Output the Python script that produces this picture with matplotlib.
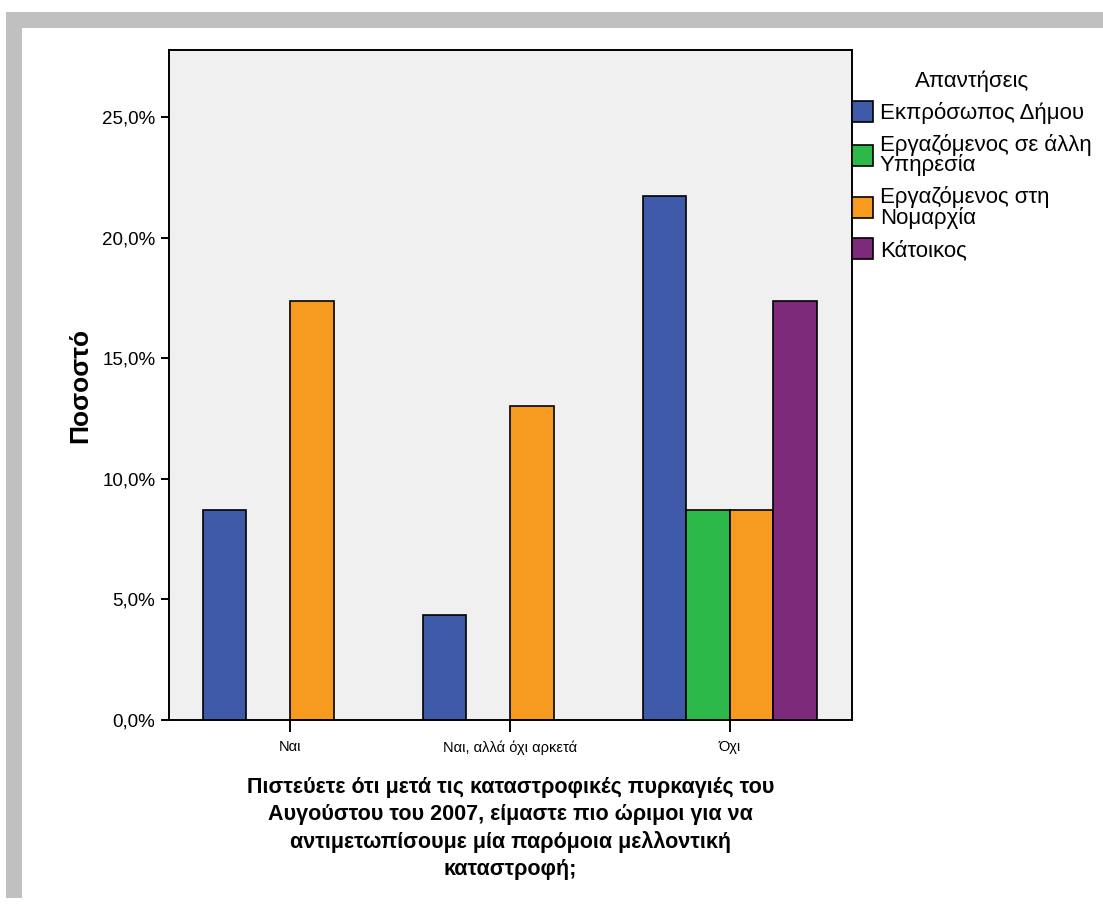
import matplotlib.pyplot as plt
import numpy as np
from matplotlib.patches import Rectangle
from matplotlib.ticker import FuncFormatter

plt.rcParams['font.family'] = ['Liberation Sans', 'DejaVu Sans']

categories = ['Ναι', 'Ναι, αλλά όχι αρκετά', 'Όχι']
series = ['Εκπρόσωπος Δήμου', 'Εργαζόμενος σε άλλη\nΥπηρεσία',
          'Εργαζόμενος στη\nΝομαρχία', 'Κάτοικος']
values = {
    'Εκπρόσωπος Δήμου': [8.70, 4.35, 21.74],
    'Εργαζόμενος σε άλλη\nΥπηρεσία': [0, 0, 8.70],
    'Εργαζόμενος στη\nΝομαρχία': [17.39, 13.04, 8.70],
    'Κάτοικος': [0, 0, 17.39],
}
colors = ['#3F5AA9', '#2DB84A', '#F79A20', '#7D2A7B']

fig = plt.figure(figsize=(11.03, 9.06), dpi=100)
# grey frame of the output viewer
fig.add_artist(Rectangle((6/1103, 8/906), 1, (898-12)/906, transform=fig.transFigure,
                         facecolor='#C0C0C0', edgecolor='none', zorder=-10))
fig.add_artist(Rectangle((22/1103, 8/906), 1, (898-28)/906, transform=fig.transFigure,
                         facecolor='white', edgecolor='none', zorder=-9))

ax = fig.add_axes([169/1103, 1-720/906, (852-169)/1103, (720-50)/906])
ax.set_facecolor('#F0F0F0')

x = np.arange(len(categories))
w = 0.198
for i, (s, c) in enumerate(zip(series, colors)):
    v = np.array(values[s], dtype=float)
    pos = x + (i - 1.5) * w
    m = v > 0  # empty cells get no bar
    ax.bar(pos[m], v[m], width=w, color=c, edgecolor='black', linewidth=1.2, label=s)

ax.set_xlim(-0.55, 2.555)
ax.set_ylim(0, 27.78)
ax.set_yticks(np.arange(0, 26, 5))
ax.yaxis.set_major_formatter(FuncFormatter(lambda v, p: f'{v:.1f}%'.replace('.', ',')))
ax.set_xticks(x)
ax.set_xticklabels(categories, fontsize=10.5)
ax.tick_params(axis='y', length=5.8, width=1.4, pad=4, labelsize=13.5)
ax.tick_params(axis='x', length=8.6, width=1.4, pad=6)
for sp in ax.spines.values():
    sp.set_linewidth(1.4)

ax.set_ylabel('Ποσοστό', fontsize=19, fontweight='bold')
ax.yaxis.set_label_coords(-0.113, 0.5)
ax.set_xlabel('Πιστεύετε ότι μετά τις καταστροφικές πυρκαγιές του\n'
              'Αυγούστου του 2007, είμαστε πιο ώριμοι για να\n'
              'αντιμετωπίσουμε μία παρόμοια μελλοντική\nκαταστροφή;',
              fontsize=15.5, fontweight='bold', linespacing=1.36, labelpad=16)

leg = ax.legend(loc='upper left', bbox_to_anchor=(852/1103, 1-70/906),
                bbox_transform=fig.transFigure, frameon=False, title='Απαντήσεις',
                fontsize=16, title_fontsize=16, handlelength=0.95, handleheight=1.05,
                handletextpad=0.3, labelspacing=0.43, borderpad=0, borderaxespad=0)
for t in leg.get_texts():
    t.set_linespacing(0.93)

plt.savefig('out.png', dpi=100)
